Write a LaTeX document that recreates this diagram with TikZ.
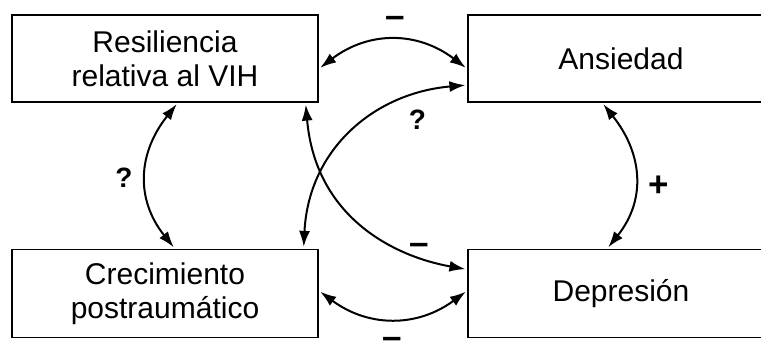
\documentclass[tikz,border=0pt]{standalone}
\usepackage{fontspec}
\setmainfont{Liberation Sans}
\usetikzlibrary{arrows.meta}
\begin{document}
\begin{tikzpicture}[x=1pt,y=1pt,
  varbox/.style={draw, line width=1.2pt, minimum width=306pt, minimum height=87pt,
    inner sep=0pt, align=center, font=\fontsize{30}{34}\selectfont},
  link/.style={line width=2pt, {Latex[length=16pt,width=11pt]}-{Latex[length=16pt,width=11pt]},
    shorten <=2pt, shorten >=2pt},
  sign/.style={inner sep=0pt, font=\bfseries\fontsize{35}{40}\selectfont},
  qmark/.style={inner sep=0pt, font=\bfseries\fontsize{28}{32}\selectfont}]
\useasboundingbox (0,0) rectangle (761,347);

% variables
\node[varbox] (res) at (165,288.5) {Resiliencia\\relativa al VIH};
\node[varbox] (ans) at (621,288.5) {Ansiedad};
\node[varbox, minimum height=88pt] (cre) at (165,53.5) {Crecimiento\\postraumático};
\node[varbox, minimum height=88pt] (dep) at (621,53.5) {Depresión};

% relations between variables
\draw[link] ([yshift=-10.5pt]res.east) .. controls +(50,38) and +(-50,38) .. ([yshift=-10.5pt]ans.west);
\draw[link] ([yshift=3pt]cre.east) .. controls +(50,-37) and +(-50,-37) .. ([yshift=3pt]dep.west);
\draw[link] ([xshift=13pt]res.south) .. controls +(-40,-50) and +(-40,50) .. ([xshift=10pt]cre.north);
\draw[link] ([xshift=-19pt]ans.south) .. controls +(40,-50) and +(40,50) .. ([xshift=-14pt]dep.north);
\draw[link] ([xshift=-13pt]res.south east) .. controls +(10,-115) and +(-73,13) .. ([yshift=24pt]dep.west);
\draw[link] ([yshift=-26.5pt]ans.west) .. controls +(-93,-8) and +(5,100) .. ([xshift=-15pt]cre.north east);

% signs of the relations
\node[sign, anchor=base] (s1) at (395,319) {–};
\node[sign, anchor=base] (s2) at (419,92.5) {–};
\node[sign, anchor=base] (s3) at (392,-2) {–};
\node[sign] (s4) at (659,160.5) {+};
\node[qmark] (q1) at (124,169.5) {?};
\node[qmark] (q2) at (417.5,227) {?};
\end{tikzpicture}
\end{document}
